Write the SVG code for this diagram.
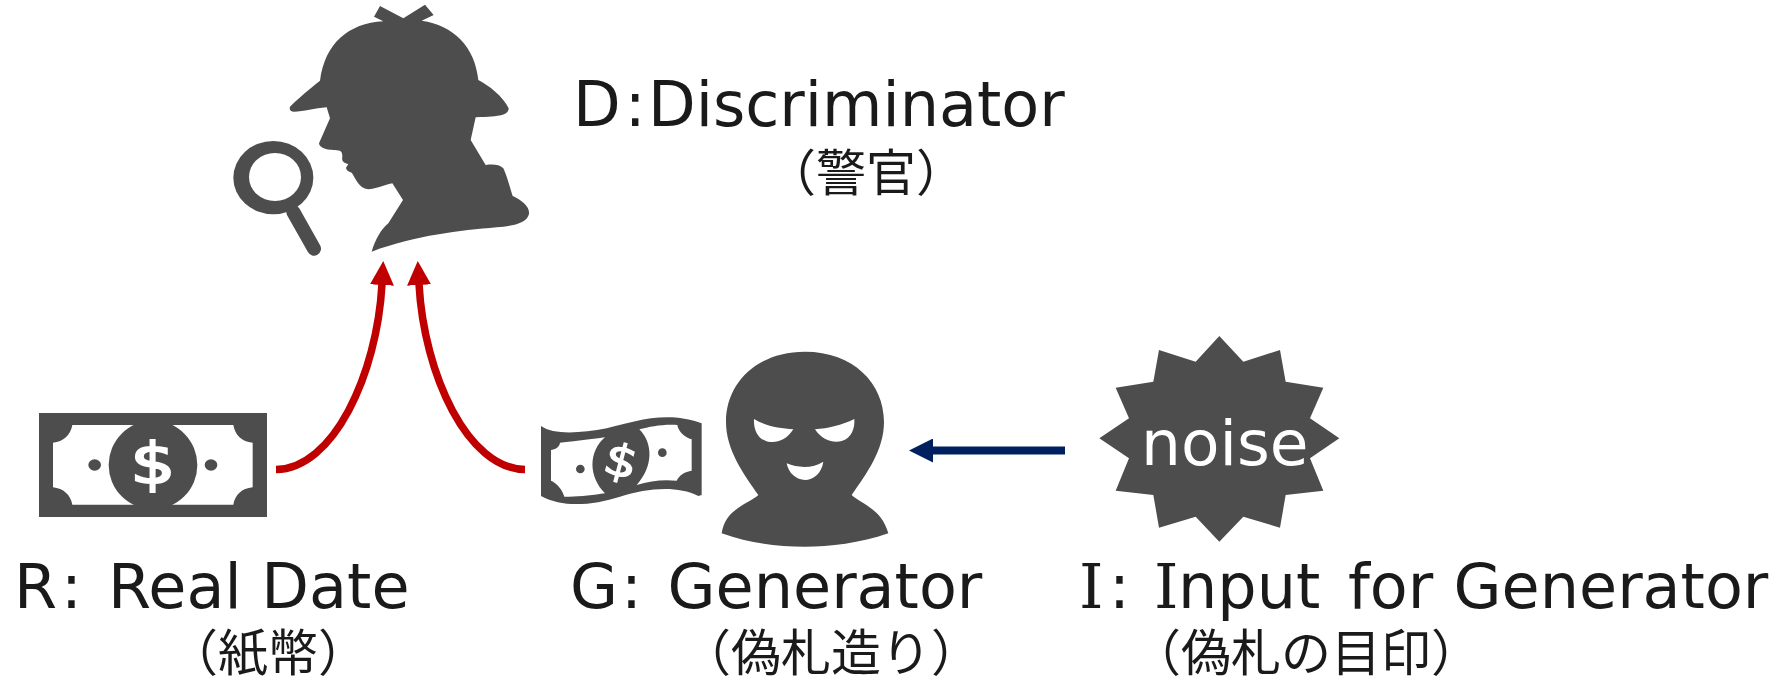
<svg xmlns="http://www.w3.org/2000/svg" width="1778" height="682" viewBox="0 0 1778 682">
<style>
.g{fill:#4d4d4d}
.w{fill:#fff}
.t{font-family:"DejaVu Sans","Noto Sans CJK JP",sans-serif;fill:#1a1a1a;font-size:62px}
.s{font-family:"DejaVu Serif",serif}
.j{font-family:"Noto Sans CJK JP",sans-serif;fill:#1a1a1a;font-size:50px;font-weight:400}
.c{fill:none;stroke:#c00000;stroke-width:7.5}
.d{font-family:"DejaVu Sans",sans-serif;fill:#fff;stroke:#fff;text-anchor:middle}
</style>
<defs>
<marker id="ar" markerUnits="userSpaceOnUse" markerWidth="25" markerHeight="24" refX="1" refY="12" orient="auto"><path d="M0,0L24,12L0,24Z" fill="#c00000"/></marker>
<marker id="ab" markerUnits="userSpaceOnUse" markerWidth="25" markerHeight="24" refX="1" refY="12" orient="auto"><path d="M0,0L24,12L0,24Z" fill="#002060"/></marker>
</defs>
<rect width="1778" height="682" fill="#fff"/>
<g id="connectors">
<path class="c" d="M276,469.5C333,469 377,375 382,284" marker-end="url(#ar)"/>
<path class="c" d="M525,469.5C468,469 424,375 419,284" marker-end="url(#ar)"/>
<path d="M1065,450.5H932" fill="none" stroke="#002060" stroke-width="8" marker-end="url(#ab)"/>
</g>
<g id="discriminator">
<g transform="translate(220,0) scale(.33333)">
<path class="g" d="M480,18L550,55L615,14L641,45L605,62C700,75 765,140 775,240C805,255 850,290 866,325C865,345 845,350 767,352L752,420L797,495C815,493 838,492 850,505C862,530 870,565 878,588C905,600 930,620 927,642C920,670 880,678 830,682C720,692 590,705 455,755C465,720 485,685 505,670L549,600L517,550C490,555 465,568 445,568C415,565 405,530 395,518C385,515 378,510 378,503L385,492C372,490 364,485 367,470C367,460 365,455 360,452C335,450 300,450 297,430L330,355L320,322C285,325 250,335 222,335C212,335 207,328 210,320C235,295 270,265 300,242C315,130 385,70 490,64L462,50Z"/>
<ellipse class="g" cx="160" cy="533" rx="120" ry="110"/>
<ellipse class="w" cx="165" cy="531" rx="78" ry="72"/>
<path d="M220,636L282,746" fill="none" stroke="#4d4d4d" stroke-width="42" stroke-linecap="round"/>
</g>
<text class="t" x="573" y="126">D<tspan dx="4">:</tspan><tspan x="648">Discriminator</tspan></text>
<text class="j" x="766" y="191">（警官）</text>
</g>
<g id="real">
<g transform="translate(20,400) scale(.33333)">
<rect class="g" x="57" y="39" width="684" height="312"/>
<path class="w" d="M157,75H640C645,105 665,125 698,128V262C665,265 645,285 640,314H157C152,285 130,265 99,262V128C130,125 152,105 157,75Z"/>
<circle class="g" cx="399" cy="195" r="133"/>
<ellipse class="g" cx="224" cy="195" rx="19" ry="17"/>
<ellipse class="g" cx="573" cy="195" rx="19" ry="17"/>
</g>
<text class="d" transform="translate(153,483) scale(1.25,1)" font-size="57" stroke-width="2">$</text>
<text class="t" x="14" y="608">R<tspan x="61">: </tspan><tspan x="108">Real Date</tspan></text>
<text class="j" x="168" y="671">（紙幣）</text>
</g>
<g id="generator">
<g transform="translate(520,360) scale(.33333)">
<path class="g" d="M63,198C100,225 180,220 260,205C340,185 440,150 545,190V405L535,408C470,375 380,385 300,410C220,435 130,445 63,408Z"/>
<path class="w" d="M120,248C150,245 200,240 255,232C205,275 205,350 255,400C220,405 170,412 133,410C125,385 110,370 93,362V270C105,268 118,262 120,248Z"/>
<path class="w" d="M358,208C390,200 430,192 472,195C475,215 495,232 515,238V332C495,335 478,345 470,362C430,358 390,362 350,375C400,320 400,250 358,208Z"/>
<circle class="g" cx="181" cy="327" r="13"/>
<circle class="g" cx="427" cy="278" r="13"/>
<path class="g" d="M855,-25C1000,-25 1092,70 1092,185C1092,270 1040,340 995,405C1020,430 1085,445 1105,520C1020,550 930,560 855,560C770,560 690,550 605,520C615,445 690,430 715,405C670,340 618,270 618,185C618,70 710,-25 855,-25Z"/>
<path class="w" d="M702,177C740,200 780,205 820,208C800,240 770,250 745,245C715,240 700,210 702,177Z"/>
<path class="w" d="M1003,177C965,195 925,205 885,208C905,240 940,250 965,243C995,235 1005,205 1003,177Z"/>
<path class="w" d="M800,310C835,325 880,325 910,305C905,340 880,360 855,360C830,360 805,340 800,310Z"/>
</g>
<text class="d" transform="rotate(15 621 461) translate(621,476) scale(1.2,1)" font-size="44" stroke-width="1.2">$</text>
<text class="t" x="570" y="608">G<tspan x="621">: </tspan><tspan x="667.5">Generator</tspan></text>
<text class="j" x="681" y="671">（偽札造り）</text>
</g>
<g id="input">
<g transform="translate(1080,320) scale(.33333)">
<polygon class="g" points="418,48 490,125 600,90 617,185 730,203 690,295 778,355 690,415 730,512 617,525 600,623 490,590 418,665 347,590 237,623 220,525 107,512 147,415 58,355 147,295 107,203 220,185 237,90 347,125"/>
</g>
<text x="1141" y="465" font-family="DejaVu Sans,sans-serif" font-size="63" fill="#fff">noise</text>
<text class="t" x="1079" y="608"><tspan class="s">I</tspan><tspan x="1109">: </tspan><tspan class="s" x="1154">I</tspan><tspan x="1178">nput </tspan><tspan x="1348">for </tspan><tspan x="1453.5">Generator</tspan></text>
<text class="j" x="1131" y="671">（偽札の目印）</text>
</g>
</svg>
